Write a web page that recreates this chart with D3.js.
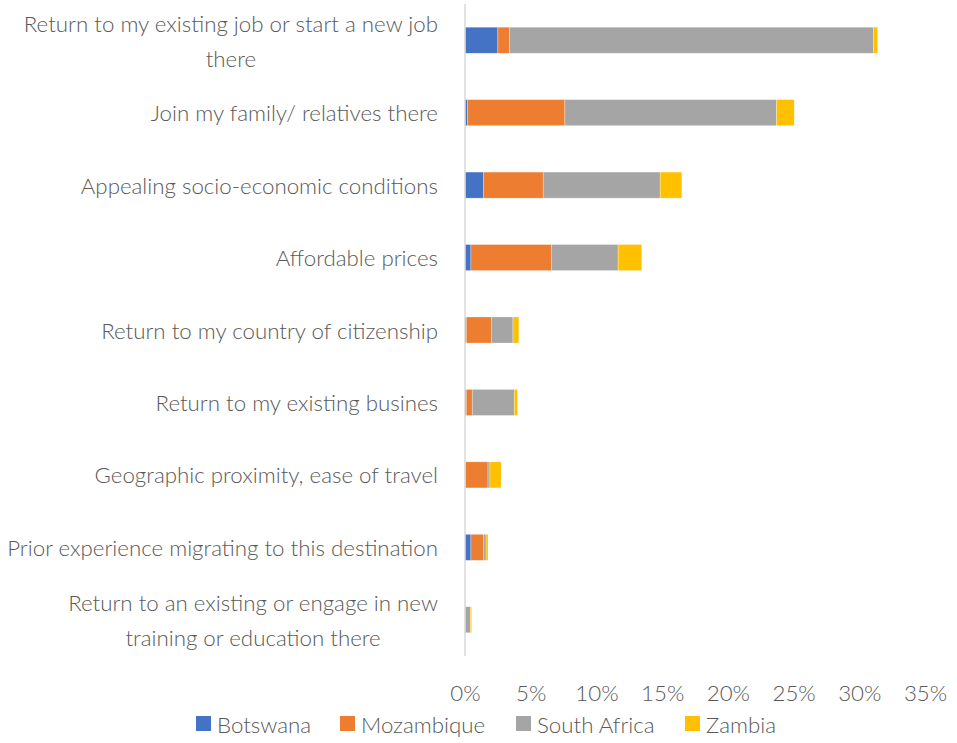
<!DOCTYPE html>
<html>
<head>
<meta charset="utf-8">
<script src="https://cdn.jsdelivr.net/npm/d3@7"></script>
<style>
  html, body { margin: 0; padding: 0; background: #fff; }
  svg { display: block; }
  text { font-family: Lato, "Open Sans", sans-serif; font-weight: 300; fill: #595959; }
</style>
</head>
<body>
<svg id="chart" width="957" height="743"></svg>
<script>
// Reasons for choosing the destination, share of respondents (%) by country
const categories = [
  "Return to my existing job or start a new job\nthere",
  "Join my family/ relatives there",
  "Appealing socio-economic conditions",
  "Affordable prices",
  "Return to my country of citizenship",
  "Return to my existing busines ",
  "Geographic proximity, ease of travel",
  "Prior experience migrating to this destination",
  "Return to an existing or engage in new\ntraining or education there"
];
const seriesNames = ["Botswana", "Mozambique", "South Africa", "Zambia"];
const botswana    = [2.5, 0.2, 1.4, 0.45, 0.1, 0.1, 0.05, 0.45, 0.0];
const mozambique  = [0.9, 7.4, 4.55, 6.15, 1.9, 0.45, 1.7, 0.95, 0.0];
const southAfrica = [27.7, 16.1, 8.9, 5.05, 1.65, 3.2, 0.15, 0.2, 0.4];
const zambia      = [0.3, 1.35, 1.65, 1.8, 0.45, 0.25, 0.85, 0.15, 0.1];
const tickValues  = [0, 5, 10, 15, 20, 25, 30, 35];

const colors = ["#4472C4", "#ED7D31", "#A5A5A5", "#FFC000"];

const rows = categories.map((c, i) => ({
  cat: c,
  "Botswana": botswana[i],
  "Mozambique": mozambique[i],
  "South Africa": southAfrica[i],
  "Zambia": zambia[i]
}));

const svg = d3.select("#chart");
const fontSize = 22.3;

const x = d3.scaleLinear().domain([0, 35]).range([465, 925]);
const y = d3.scaleBand().domain(categories).range([4, 656])
  .paddingInner(0.64).paddingOuter(0.32);
const color = d3.scaleOrdinal().domain(seriesNames).range(colors);

const stacked = d3.stack().keys(seriesNames)(rows);

// stacked bars
svg.append("g").selectAll("g")
  .data(stacked).join("g")
  .attr("fill", d => color(d.key))
  .selectAll("rect")
  .data(d => d).join("rect")
  .attr("x", d => x(d[0]))
  .attr("width", d => Math.max(0, x(d[1]) - x(d[0])))
  .attr("y", d => y(d.data.cat))
  .attr("height", y.bandwidth())
  .attr("stroke", "#fff")
  .attr("stroke-opacity", 0.5)
  .attr("stroke-width", 0.6);

// vertical category axis line
svg.append("line")
  .attr("x1", x(0)).attr("x2", x(0))
  .attr("y1", 4).attr("y2", 656)
  .attr("stroke", "#D9D9D9").attr("stroke-width", 1.5);

// category labels (multi-line labels are centred as a block, block right-aligned)
const labelRight = 438;
const lineH = 35;
const labelG = svg.append("g").attr("font-size", fontSize);
categories.forEach(c => {
  const lines = c.split("\n");
  const cy = y(c) + y.bandwidth() / 2;
  const t = labelG.append("text").attr("dominant-baseline", "central");
  if (lines.length === 1) {
    t.attr("x", labelRight).attr("y", cy).attr("text-anchor", "end").text(lines[0]);
  } else {
    // measure widest line
    const widths = lines.map(l => {
      const tmp = labelG.append("text").text(l);
      const w = tmp.node().getComputedTextLength();
      tmp.remove();
      return w;
    });
    const maxW = d3.max(widths);
    const cx = labelRight - maxW / 2;
    t.attr("text-anchor", "middle");
    lines.forEach((l, k) => {
      t.append("tspan")
        .attr("x", cx)
        .attr("y", cy + (k - (lines.length - 1) / 2) * lineH)
        .text(l);
    });
  }
});

// value axis tick labels
const xAxis = d3.axisBottom(x).tickValues(tickValues)
  .tickFormat(d => d + "%").tickSize(0).tickPadding(0);
const axisG = svg.append("g").attr("transform", "translate(0,685)").call(xAxis);
axisG.select(".domain").remove();
axisG.selectAll("text")
  .attr("font-size", fontSize)
  .attr("font-family", "Lato, 'Open Sans', sans-serif")
  .attr("font-weight", 300)
  .attr("fill", "#595959")
  .attr("dy", "0.71em");

// legend
const legendX = [196, 340, 516, 685];
const legend = svg.append("g").attr("font-size", fontSize);
seriesNames.forEach((s, i) => {
  legend.append("rect")
    .attr("x", legendX[i]).attr("y", 716)
    .attr("width", 15).attr("height", 15)
    .attr("fill", color(s));
  legend.append("text")
    .attr("x", legendX[i] + 21).attr("y", 724)
    .attr("dominant-baseline", "central")
    .text(s);
});
</script>
</body>
</html>
